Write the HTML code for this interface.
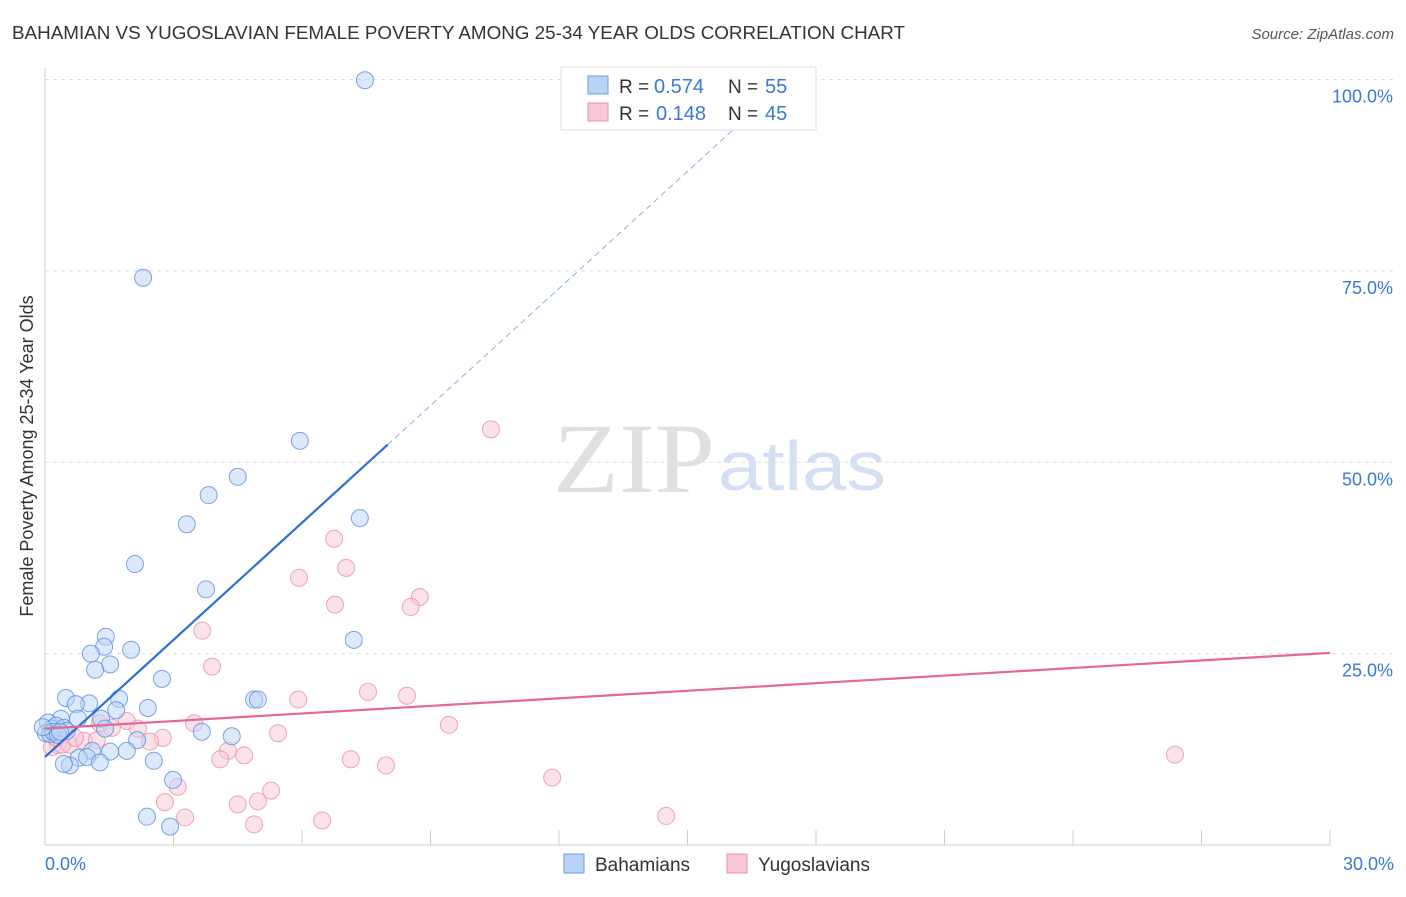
<!DOCTYPE html>
<html><head><meta charset="utf-8"><style>
body{margin:0;background:#fff;font-family:"Liberation Sans",sans-serif;}
svg text{font-family:"Liberation Sans",sans-serif;}
</style></head><body>
<svg width="1406" height="892" viewBox="0 0 1406 892" xmlns="http://www.w3.org/2000/svg">
<text x="12" y="39" font-size="18" fill="#333" textLength="893" lengthAdjust="spacingAndGlyphs">BAHAMIAN VS YUGOSLAVIAN FEMALE POVERTY AMONG 25-34 YEAR OLDS CORRELATION CHART</text>
<text x="1394" y="39" font-size="15" fill="#555" font-style="italic" text-anchor="end">Source: ZipAtlas.com</text>
<g id="grid"></g>
<line x1="45" y1="68" x2="45" y2="845" stroke="#ccc"/>
<line x1="45" y1="845" x2="1330" y2="845" stroke="#ccc"/>
<g id="xticks"></g>
<text x="553" y="492" font-size="100" fill="#e0e0e0" textLength="162" lengthAdjust="spacingAndGlyphs" style="font-family:'Liberation Serif',serif">ZIP</text>
<text x="718" y="490" font-size="70" fill="#d3e0f3" textLength="168" lengthAdjust="spacingAndGlyphs">atlas</text>
<text x="33" y="456" font-size="18" fill="#333" text-anchor="middle" transform="rotate(-90 33 456)">Female Poverty Among 25-34 Year Olds</text>
<text x="45" y="870" font-size="18" fill="#3a78d8">0.0%</text>
<text x="1394" y="870" font-size="18" fill="#3a78d8" text-anchor="end">30.0%</text>
<g id="ylabels"></g>
<g id="pink"></g>
<g id="blue"></g>
<g id="trends"></g>
<g>
<rect x="561" y="67" width="255" height="63" fill="#fff" stroke="#ddd"/>
<rect x="588" y="76" width="20" height="18" fill="#b9d3f5" stroke="#6a9de0"/>
<text x="619" y="93" font-size="19" fill="#333">R =</text><text x="654" y="93" font-size="20" fill="#3a78d8">0.574</text>
<text x="728" y="93" font-size="19" fill="#333">N =</text><text x="765" y="93" font-size="20" fill="#3a78d8">55</text>
<rect x="588" y="103" width="20" height="18" fill="#f8c6d4" stroke="#e890aa"/>
<text x="619" y="120" font-size="19" fill="#333">R =</text><text x="656" y="120" font-size="20" fill="#3a78d8">0.148</text>
<text x="728" y="120" font-size="19" fill="#333">N =</text><text x="765" y="120" font-size="20" fill="#3a78d8">45</text>
</g>
<g>
<rect x="564" y="854" width="20" height="19" fill="#b9d3f5" stroke="#6a9de0"/>
<text x="595" y="871" font-size="19" fill="#333">Bahamians</text>
<rect x="727" y="854" width="20" height="19" fill="#f8c6d4" stroke="#e890aa"/>
<text x="758" y="871" font-size="19" fill="#333">Yugoslavians</text>
</g>
</svg>
<script>
const yTicks=[25,50,75,100];
const yTickLabels=["25.0%","50.0%","75.0%","100.0%"];
const xTicks=[0,3,6,9,12,15,18,21,24,27,30];
const blueX=[7.47,2.29,5.95,4.50,3.82,3.31,7.35,2.10,3.76,7.21,1.42,1.38,2.01,1.07,1.52,1.17,2.73,0.49,1.03,1.73,0.72,2.40,1.66,4.88,4.97,1.31,0.37,0.77,0.07,0.16,0.26,0.44,0.51,1.40,3.66,4.36,2.15,1.10,1.91,1.52,0.79,0.98,2.54,0.58,0.44,1.28,2.99,2.38,2.92,0.02,0.12,0.19,0.30,-0.05,0.35];
const blueY=[99.9,74.1,52.8,48.1,45.7,41.9,42.7,36.7,33.4,26.8,27.2,25.9,25.5,25.0,23.6,22.9,21.7,19.2,18.5,19.1,18.4,17.9,17.6,19.0,19.0,16.5,16.5,16.5,16.0,15.2,15.6,15.3,14.9,15.2,14.8,14.2,13.7,12.3,12.3,12.2,11.4,11.5,11.0,10.4,10.6,10.8,8.5,3.7,2.4,14.6,14.5,14.8,14.4,15.4,14.8];
const pinkX=[10.41,6.75,7.03,5.93,6.77,8.75,8.54,3.67,3.90,7.54,5.91,8.45,9.43,3.48,1.91,2.17,2.75,2.45,5.44,1.56,4.65,4.27,4.09,7.14,7.96,11.84,3.10,5.28,2.80,4.97,4.50,3.27,4.88,6.47,14.50,26.38,0.30,0.58,0.16,0.91,1.28,0.26,0.40,0.70,1.21];
const pinkY=[54.3,40.0,36.2,34.9,31.4,32.4,31.1,28.0,23.3,20.0,19.0,19.5,15.7,15.9,16.2,15.2,14.0,13.5,14.6,15.3,11.7,12.3,11.2,11.2,10.4,8.8,7.6,7.1,5.6,5.7,5.3,3.6,2.7,3.2,3.8,11.8,13.1,13.1,12.8,13.6,15.9,14.0,13.1,14.0,13.7];
const blueTrend=[11.5,5.1];
const pinkTrend=[15.2,0.33];
const NS="http://www.w3.org/2000/svg";
const X=v=>45+v/30*1285, Y=v=>845-v/100*765.5;
function mk(tag,attrs,parent){const e=document.createElementNS(NS,tag);for(const k in attrs)e.setAttribute(k,attrs[k]);parent.appendChild(e);return e;}
const grid=document.getElementById('grid'),yl=document.getElementById('ylabels');
yTicks.forEach((t,i)=>{
 const l=mk('line',{x1:45,x2:1394,y1:Y(t),y2:Y(t),stroke:'#ddd','stroke-dasharray':'4,4'},grid);
 
 
 const tx=mk('text',{x:1393,y:Y(t)+23,'font-size':18,fill:'#3a78d8','text-anchor':'end'},yl);
 tx.textContent=yTickLabels[i];
 
 
});
const xt=document.getElementById('xticks');
xTicks.forEach(t=>{
 const l=mk('line',{x1:X(t),x2:X(t),y1:830,y2:845,stroke:'#ccc'},xt);
 
 
});
function pts(id,xs,ys,fill,stroke,name){
 const g=document.getElementById(id);
 xs.forEach((x,i)=>{
  const c=mk('circle',{cx:X(x),cy:Y(ys[i]),r:8.5,fill:fill,'fill-opacity':0.5,stroke:stroke,'stroke-opacity':0.8,'stroke-width':1},g);
  
  
 });
}
pts('pink',pinkX,pinkY,'#f8c6d4','#e890aa','yugoslavian-point');
pts('blue',blueX,blueY,'#b9d3f5','#5a8fdc','bahamian-point');
const tr=document.getElementById('trends');
const b1=mk('line',{x1:X(0),y1:Y(blueTrend[0]),x2:X(8),y2:Y(blueTrend[0]+8*blueTrend[1]),stroke:'#2a6fd6','stroke-width':2.2},tr);


const xe=(100-blueTrend[0])/blueTrend[1];
const b2=mk('line',{x1:X(8),y1:Y(blueTrend[0]+8*blueTrend[1]),x2:X(xe),y2:Y(100),stroke:'#8ab0e6','stroke-width':1,'stroke-dasharray':'6,4'},tr);


const p1=mk('line',{x1:X(0),y1:Y(pinkTrend[0]),x2:X(30),y2:Y(pinkTrend[0]+30*pinkTrend[1]),stroke:'#e46892','stroke-width':2.2},tr);


</script>
</body></html>
